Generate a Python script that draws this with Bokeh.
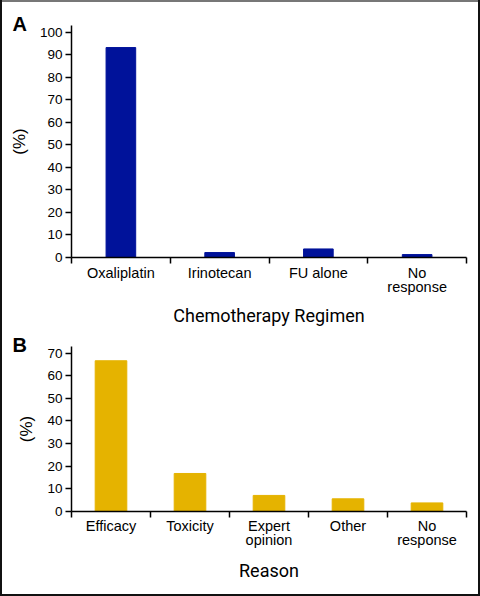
from bokeh.plotting import figure
from bokeh.layouts import column
from bokeh.models import Range1d, FixedTicker, Title
from bokeh.embed import file_html
from bokeh.resources import INLINE

# ---- data ----
regimens = ["Oxaliplatin", "Irinotecan", "FU alone", "No\nresponse"]
regimen_pct = [93.3, 2.2, 3.8, 1.3]

reasons = ["Efficacy", "Toxicity", "Expert\nopinion", "Other", "No\nresponse"]
reason_pct = [66.6, 16.8, 7.1, 5.6, 3.8]

ticks_a = list(range(0, 101, 10))
ticks_b = list(range(0, 71, 10))

NAVY = "#00129a"
GOLD = "#e5b300"
FONT = "Liberation Sans"


def panel(cats, vals, yticks, ymax, color, barw, height, top, bottom, xtitle,
          letter, lab_standoff, title_standoff):
    n = len(cats)
    centers = [i + 0.5 for i in range(n)]
    bounds = list(range(n + 1))
    p = figure(width=480, height=height, output_backend="svg", toolbar_location=None,
               x_range=Range1d(0, n), y_range=Range1d(0, ymax),
               min_border_left=71, min_border_right=14, min_border_top=top,
               min_border_bottom=bottom)
    p.outline_line_color = None
    p.grid.grid_line_color = None
    p.background_fill_color = "white"
    p.border_fill_color = None
    p.vbar(x=centers, top=vals, width=barw, fill_color=color, line_color=color)

    xa = p.xaxis[0]
    xa.ticker = FixedTicker(ticks=centers, minor_ticks=bounds)
    xa.major_label_overrides = {c: lab for c, lab in zip(centers, cats)}
    xa.major_tick_out = 0
    xa.major_tick_in = 0
    xa.minor_tick_out = 6
    xa.minor_tick_in = 0
    xa.minor_tick_line_color = "black"
    xa.minor_tick_line_width = 1.5
    xa.axis_line_width = 1.5
    xa.axis_line_color = "black"
    xa.major_label_standoff = lab_standoff
    xa.major_label_text_font = FONT
    xa.major_label_text_font_size = "14.5px"
    xa.major_label_text_line_height = 0.9
    xa.major_label_text_color = "black"
    xa.axis_label = xtitle
    xa.axis_label_text_font = "Roboto"
    xa.axis_label_text_font_size = "18px"
    xa.axis_label_text_font_style = "normal"
    xa.axis_label_text_color = "black"
    xa.axis_label_standoff = title_standoff

    ya = p.yaxis[0]
    ya.ticker = FixedTicker(ticks=yticks)
    ya.major_tick_out = 6
    ya.major_tick_in = 0
    ya.major_tick_line_width = 1.5
    ya.minor_tick_line_color = None
    ya.axis_line_width = 1.5
    ya.axis_line_color = "black"
    ya.major_label_standoff = 3
    ya.major_label_text_font = FONT
    ya.major_label_text_font_size = "13.5px"
    ya.major_label_text_color = "black"
    ya.axis_label = "(%)"
    ya.axis_label_text_font = FONT
    ya.axis_label_text_font_size = "17px"
    ya.axis_label_text_font_style = "normal"
    ya.axis_label_text_color = "black"
    ya.axis_label_standoff = 8

    p.add_layout(Title(text=letter, align="left", offset=-59, standoff=-19,
                       text_font=FONT, text_font_size="20px",
                       text_font_style="bold", text_color="black"), "above")
    return p


pA = panel(regimens, regimen_pct, ticks_a, 103.1, NAVY, 0.3, 334, 25, 77,
           "Chemotherapy Regimen", "A", 1, 7)
pB = panel(reasons, reason_pct, ticks_b, 72.9, GOLD, 0.4, 262, 12, 85,
           "Reason", "B", 0, 9)

layout = column(pA, pB, spacing=0,
                styles={"background": "white",
                        "box-shadow": "inset 2px 0 0 #111, inset -2px 0 0 #111, "
                                      "inset 0 -2px 0 #111, inset 0 2px 0 #777"})
open("out.html", "w").write(file_html(layout, INLINE))
